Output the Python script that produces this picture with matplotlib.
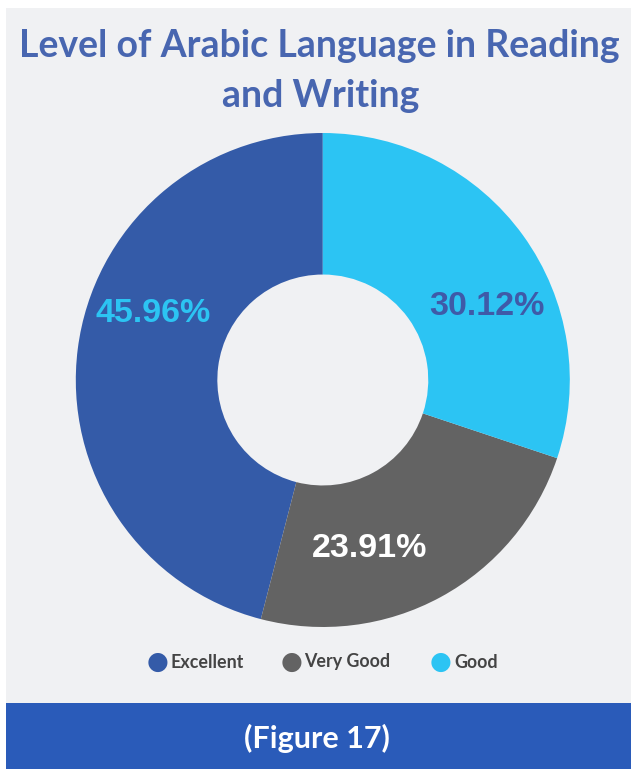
import numpy as np
import matplotlib.pyplot as plt
from matplotlib.patches import Rectangle

labels = ["Excellent", "Very Good", "Good"]
values = [45.96, 23.91, 30.12]
colors = ["#345ba8", "#636363", "#2cc4f3"]
label_colors = ["#2cc4f3", "#ffffff", "#3f5aa8"]

W, H = 631, 769
fig = plt.figure(figsize=(W / 100, H / 100), dpi=100)
fig.patch.set_facecolor("white")

# panel background and footer band
fig.patches.append(Rectangle((6 / W, 66 / H), 1 - 6 / W, 695 / H,
                             transform=fig.transFigure, facecolor="#f0f1f3", edgecolor="none", zorder=-2))
fig.patches.append(Rectangle((6 / W, 0), 1 - 6 / W, 66 / H,
                             transform=fig.transFigure, facecolor="#2a5bb9", edgecolor="none", zorder=-2))

title_kw = dict(ha="center", va="center", fontsize=27, fontweight="bold",
                color="#4866b0", family="Lato")
fig.text(319 / W, 1 - 46 / H, "Level of Arabic Language in Reading", **title_kw)
fig.text(321 / W, 1 - 96 / H, "and Writing", **title_kw)
fig.text(317 / W, 1 - 738 / H, "(Figure 17)", ha="center", va="center",
         fontsize=22, fontweight="bold", color="white", family="Lato")

cx, cy, r = 322.8, 380, 247
ax = fig.add_axes([(cx - r) / W, (H - cy - r) / H, 2 * r / W, 2 * r / H])
ax.set_facecolor("none")
wedges, _ = ax.pie(values, colors=colors, startangle=90, counterclock=True,
                   radius=1, wedgeprops=dict(width=0.573, edgecolor="none"))
ax.set_xlim(-1, 1)
ax.set_ylim(-1, 1)
ax.set_aspect("equal")
ax.axis("off")

for w, v, c in zip(wedges, values, label_colors):
    ang = np.deg2rad((w.theta1 + w.theta2) / 2 - 13)
    ax.annotate(f"{v:.2f}%", (0.725 * np.cos(ang), 0.725 * np.sin(ang)),
                xytext=(-1, 3), textcoords="offset points", ha="center", va="center",
                fontsize=24.5, fontweight="bold", color=c, family="Liberation Sans")

# legend row
leg_y = 1 - 662 / H
for x, lab, col in zip([158, 291.5, 441], labels, colors):
    fig.text(x / W, leg_y, "\u25CF", ha="center", va="center", fontsize=18, color=col,
             family="DejaVu Sans")
    fig.text((x + 13) / W, leg_y, lab, ha="left", va="center", fontsize=12.9,
             fontweight="bold", color="#444444", family="Lato")

fig.savefig("out.png", dpi=100, facecolor=fig.get_facecolor())
